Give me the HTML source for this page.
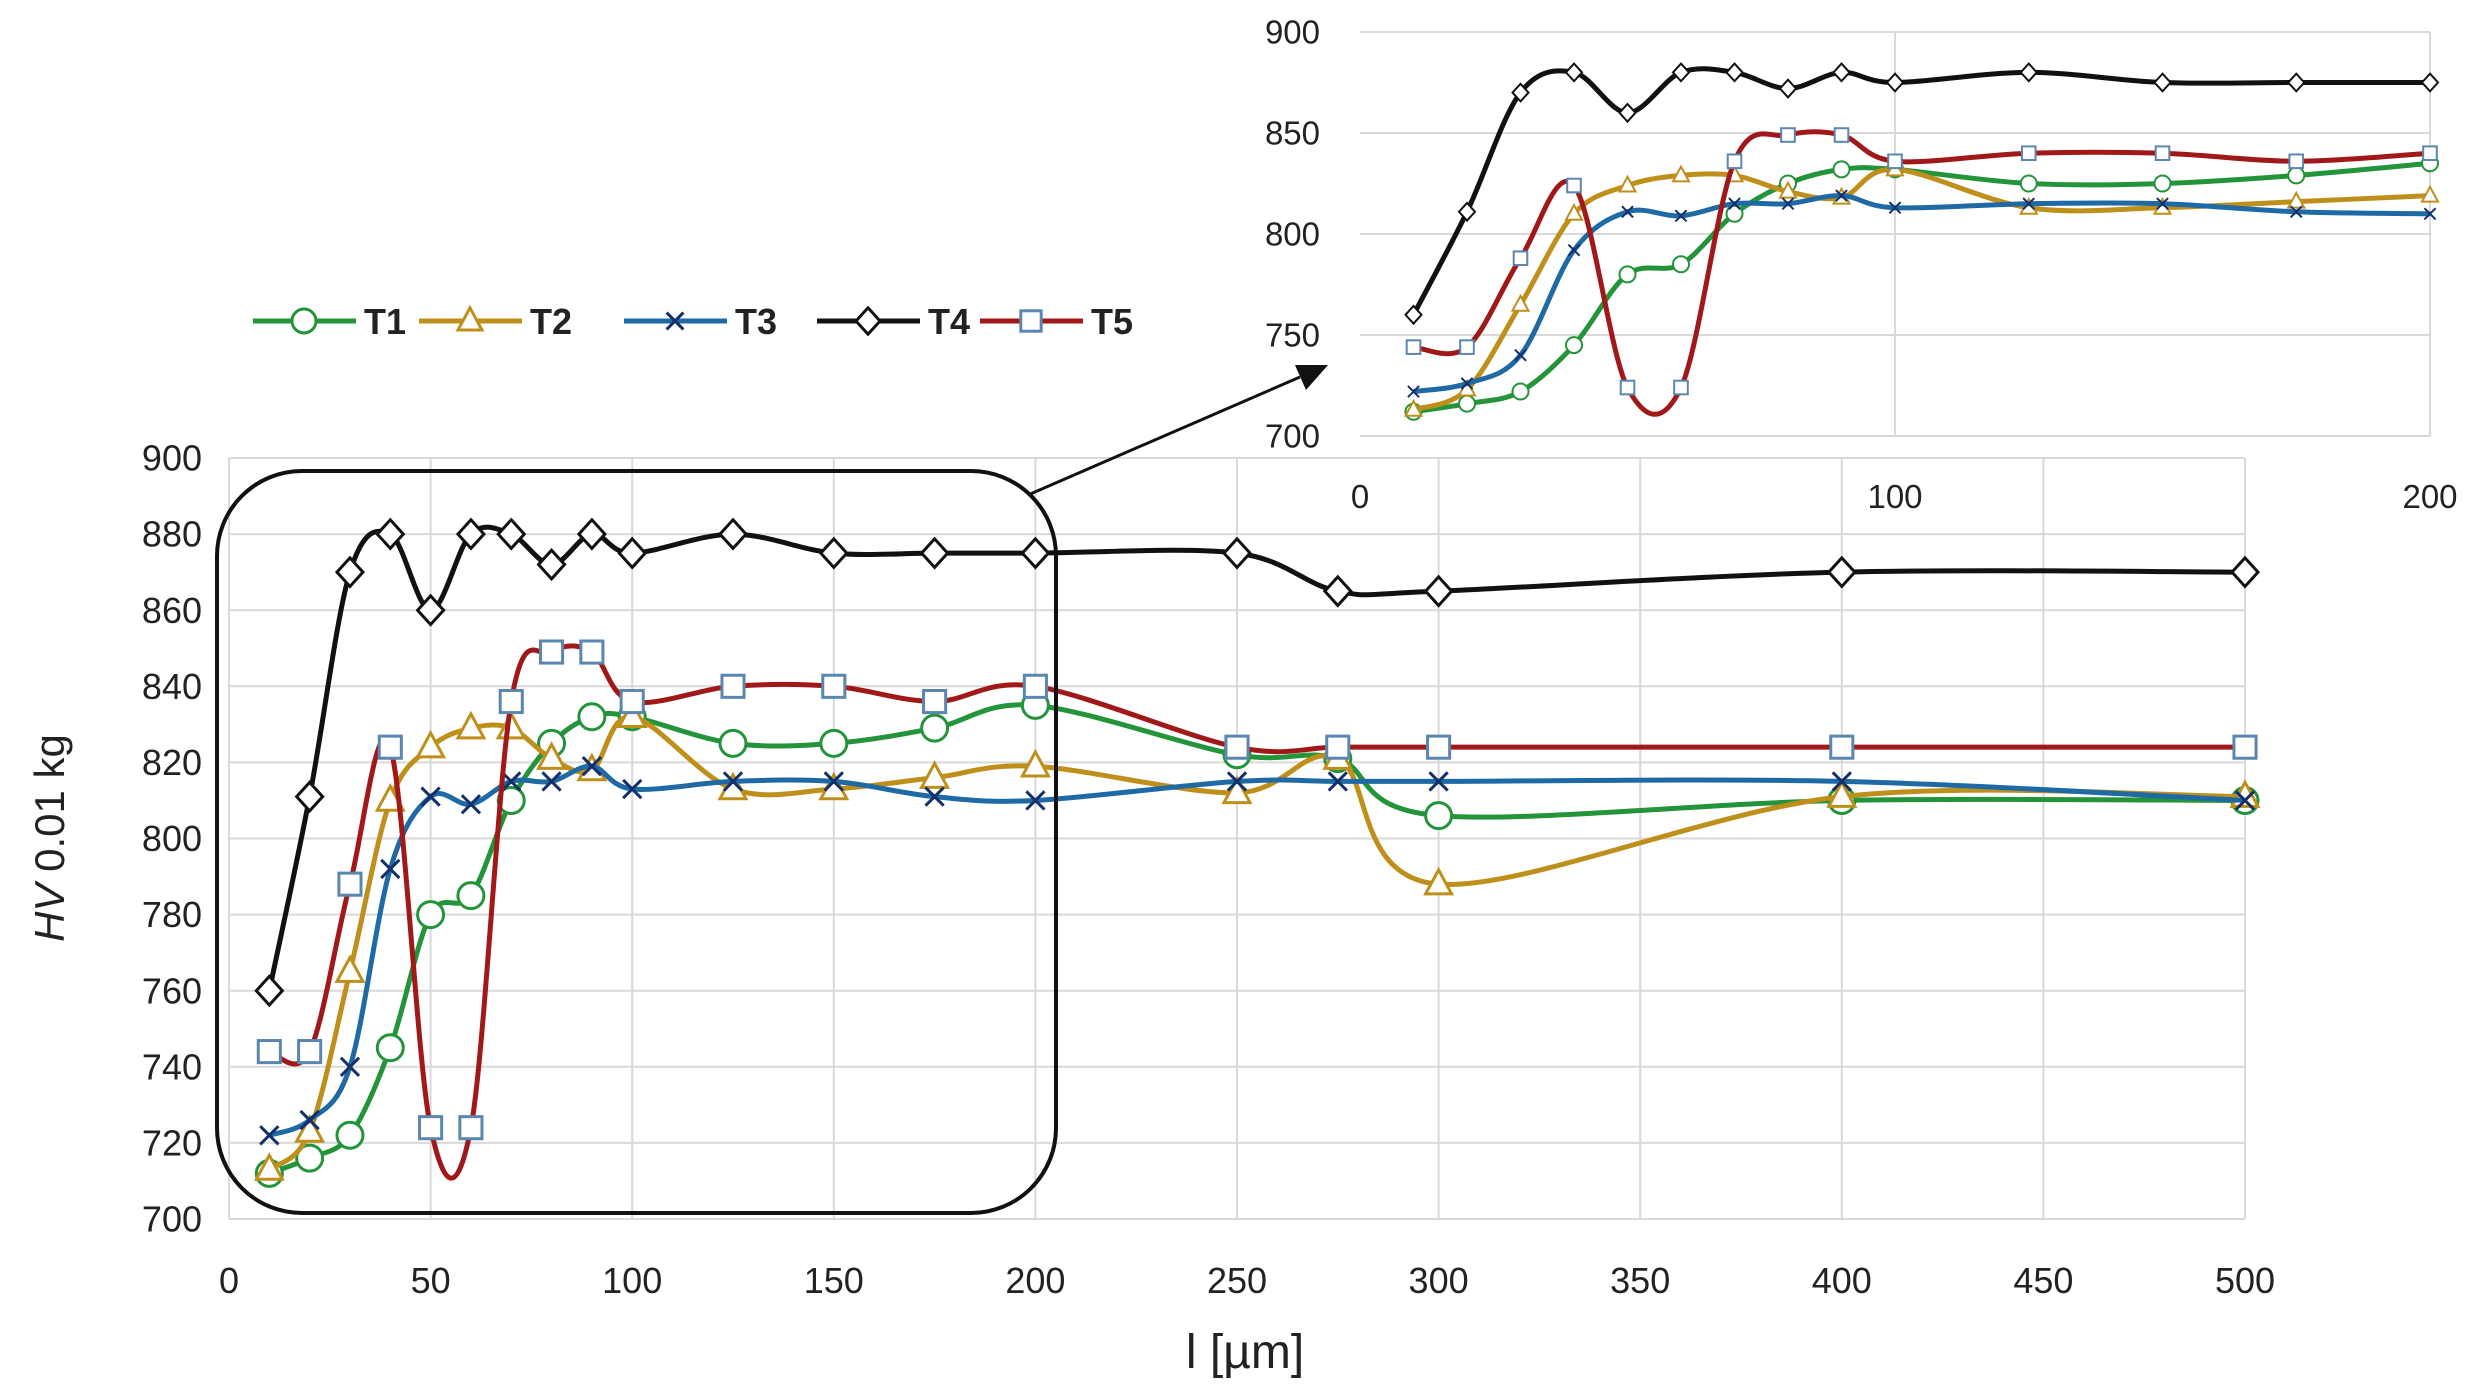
<!DOCTYPE html>
<html><head><meta charset="utf-8"><style>
html,body{margin:0;padding:0;background:#fff;}
svg{display:block;font-family:"Liberation Sans",sans-serif;}
</style></head><body>
<svg id="s" width="2479" height="1393" viewBox="0 0 2479 1393" xmlns="http://www.w3.org/2000/svg"></svg>
<script>
const S=document.getElementById('s');let h='';let cid=0;
const xs=[10,20,30,40,50,60,70,80,90,100,125,150,175,200,250,275,300,400,500];
const D={
T1:[712,716,722,745,780,785,810,825,832,832,825,825,829,835,822,821,806,810,810],
T2:[713,723,765,810,824,829,829,821,818,832,813,813,816,819,812,821,788,811,811],
T3:[722,726,740,792,811,809,815,815,819,813,815,815,811,810,815,815,815,815,810],
T4:[760,811,870,880,860,880,880,872,880,875,880,875,875,875,875,865,865,870,870],
T5:[744,744,788,824,724,724,836,849,849,836,840,840,836,840,824,824,824,824,824]};
const C={T1:'#23943a',T2:'#bf8f1c',T3:'#1f6aa5',T4:'#111',T5:'#a11818'};
const MC={T1:'#23943a',T2:'#bf8f1c',T3:'#13306a',T4:'#111',T5:'#5a86b0'};
function path(P){let d=`M${P[0][0]},${P[0][1]}`;for(let i=0;i<P.length-1;i++){const p0=P[i-1]||P[i],p1=P[i],p2=P[i+1],p3=P[i+2]||p2;const t=1/6;d+=` C${p1[0]+(p2[0]-p0[0])*t},${p1[1]+(p2[1]-p0[1])*t} ${p2[0]-(p3[0]-p1[0])*t},${p2[1]-(p3[1]-p1[1])*t} ${p2[0]},${p2[1]}`;}return d;}
function marker(k,x,y,r,sw){const c=MC[k];
 if(k=='T1')return `<circle cx="${x}" cy="${y}" r="${r}" fill="#fff" stroke="${c}" stroke-width="${sw}"/>`;
 if(k=='T2')return `<polygon points="${x},${y-r*1.1} ${x+r},${y+r*0.75} ${x-r},${y+r*0.75}" fill="#fff" stroke="${c}" stroke-width="${sw}"/>`;
 if(k=='T3')return `<path d="M${x-r*.7},${y-r*.7}L${x+r*.7},${y+r*.7}M${x+r*.7},${y-r*.7}L${x-r*.7},${y+r*.7}" stroke="${c}" stroke-width="${sw}"/>`;
 if(k=='T4')return `<polygon points="${x},${y-r*1.1} ${x+r},${y} ${x},${y+r*1.1} ${x-r},${y}" fill="#fff" stroke="${c}" stroke-width="${sw}"/>`;
 return `<rect x="${x-r*.85}" y="${y-r*.85}" width="${r*1.7}" height="${r*1.7}" fill="#fff" stroke="${c}" stroke-width="${sw}"/>`;}
function chart(x0,x1,xmax,y0,y1,xstep,ystep,lw,mr,msw,fs,xlY,ylX,leftLine){
 const X=v=>x0+(x1-x0)*v/xmax, Y=v=>y0+(y1-y0)*(v-700)/200;
 const id='c'+(cid++);
 h+=`<clipPath id="${id}"><rect x="${x0-1}" y="${y1-1}" width="${x1-x0+2}" height="${y0-y1+2}"/></clipPath><g clip-path="url(#${id})">`;
 for(let v=700;v<=900;v+=ystep)h+=`<line x1="${x0}" x2="${x1}" y1="${Y(v)}" y2="${Y(v)}" stroke="#d9d9d9" stroke-width="2"/>`;
 for(let v=0;v<=xmax;v+=xstep)if(v>0||leftLine)h+=`<line x1="${X(v)}" x2="${X(v)}" y1="${Y(700)}" y2="${Y(900)}" stroke="#d9d9d9" stroke-width="2"/>`;
 h+='</g>';
 for(let v=700;v<=900;v+=ystep)h+=`<text x="${ylX}" y="${Y(v)+fs*0.35}" font-size="${fs}" text-anchor="end" fill="#222">${v}</text>`;
 for(let v=0;v<=xmax;v+=xstep)h+=`<text x="${X(v)}" y="${xlY}" font-size="${fs}" text-anchor="middle" fill="#222">${v}</text>`;
 for(const k of ['T1','T2','T3','T4','T5']){const P=[];xs.forEach((x,i)=>{if(x<=xmax)P.push([X(x),Y(D[k][i])]);});
  h+=`<path d="${path(P)}" fill="none" stroke="${C[k]}" stroke-width="${lw}"/>`;
  P.forEach(p=>h+=marker(k,p[0],p[1],mr,msw));}
}
chart(229,2245,500,1219,458,50,20,5,13,3,36,1293,202,true);
chart(1360,2430,200,436,32,100,50,5,8,2,33,508,1320,false);
h+=`<rect x="217" y="471" width="839" height="742" rx="85" ry="85" fill="none" stroke="#111" stroke-width="4"/>`;
h+=`<line x1="1028" y1="495" x2="1300" y2="377" stroke="#111" stroke-width="3"/><polygon points="1328,365 1295,365 1306,390" fill="#111"/>`;
h+=`<text x="1245" y="1368" font-size="48" text-anchor="middle" fill="#222">l [µm]</text>`;
h+=`<text transform="translate(64,838) rotate(-90)" font-size="42" text-anchor="middle" fill="#222"><tspan font-style="italic">HV</tspan> 0.01 kg</text>`;
const L=[['T1',253],['T2',419],['T3',624],['T4',817],['T5',980]];
L.forEach(([k,a])=>{h+=`<line x1="${a}" x2="${a+103}" y1="321" y2="321" stroke="${C[k]}" stroke-width="5"/>`+marker(k,a+51,321,12,3)+`<text x="${a+111}" y="334" font-size="36" font-weight="bold" fill="#222">${k}</text>`;});
S.innerHTML=h;
</script>
</body></html>
